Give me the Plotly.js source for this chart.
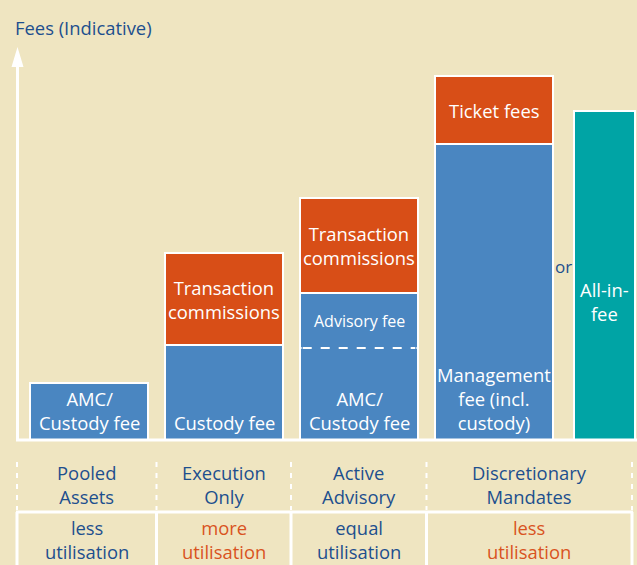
<!DOCTYPE html>
<html><head><meta charset="utf-8">
<script src="https://cdn.plot.ly/plotly-3.0.1.min.js"></script>
<style>html,body{margin:0;padding:0;background:#efe5c1;}</style>
</head><body>
<div id="chart" style="width:637px;height:565px;"></div>
<script>
// ---- data ----
const categories = ["Pooled<br>Assets", "Execution<br>Only", "Active<br>Advisory", "Discretionary<br>Mandates"];
const utilisation = ["less<br>utilisation", "more<br>utilisation", "equal<br>utilisation", "less<br>utilisation"];
const baseFee = [5.7, 9.5, 9.2, 29.6];          // AMC/custody, custody, AMC/custody, management
const advisoryFee = [0, 0, 5.5, 0];
const transactionFee = [0, 9.2, 9.5, 6.8];
const allInFee = 32.9;
const baseLabels = ["AMC/<br>Custody fee", "Custody fee", "AMC/<br>Custody fee", "Management<br>fee (incl.<br>custody)"];
const advisoryLabels = ["", "", "Advisory fee", ""];
const transactionLabels = ["", "Transaction<br>commissions", "Transaction<br>commissions", "Ticket fees"];
const allInLabel = "All-in-<br>fee";

// ---- styles ----
const BG = "#efe5c1", BLUE = "#4a86c1", ORANGE = "#d84e17", TEAL = "#00a4a5";
const TXT_BLUE = "#1d4f8e", TXT_ORANGE = "#d9531e";
const utilColors = [TXT_BLUE, TXT_ORANGE, TXT_BLUE, TXT_ORANGE];
const FONT = "Open Sans, Noto Sans, sans-serif";
const W = 637, H = 565;
const px = v => v / W, py = v => 1 - v / H;

const xs = categories.map((_, i) => i);
const barW = 0.874;
const xAllIn = 3.82, wAllIn = 0.45;
const line = {color: "white", width: 2};

const traces = [
  {type: "bar", x: xs, y: baseFee, width: barW, marker: {color: BLUE, line: line}, hoverinfo: "skip"},
  {type: "bar", x: xs, y: advisoryFee, width: barW, marker: {color: BLUE, line: line}, hoverinfo: "skip"},
  {type: "bar", x: xs, y: transactionFee, width: barW, marker: {color: ORANGE, line: line}, hoverinfo: "skip"},
  {type: "bar", x: [xAllIn], y: [allInFee], width: wAllIn, marker: {color: TEAL, line: line}, hoverinfo: "skip"}
];

const ann = [];
const wf = (s) => ({family: FONT, size: s, color: "white"});
const A = (o) => Object.assign({showarrow: false, xanchor: "center", yanchor: "middle"}, o);
xs.forEach(i => {
  ann.push(A({x: i, y: 0, xref: "x", yref: "y", yanchor: "bottom", yshift: 3, text: baseLabels[i], font: wf(18.4)}));
  if (advisoryLabels[i]) ann.push(A({x: i, y: baseFee[i] + advisoryFee[i] / 2, xref: "x", yref: "y", text: advisoryLabels[i], font: wf(16)}));
  if (transactionLabels[i]) ann.push(A({x: i, y: baseFee[i] + advisoryFee[i] + transactionFee[i] / 2, xref: "x", yref: "y", text: transactionLabels[i], font: wf(18.4)}));
});
ann.push(A({x: xAllIn, y: allInFee * 0.42, xref: "x", yref: "y", text: allInLabel, font: wf(18.4)}));
ann.push(A({x: (3 + barW / 2 + xAllIn - wAllIn / 2) / 2, y: 17.4, xref: "x", yref: "y", text: "or", font: {family: FONT, size: 17, color: TXT_BLUE}}));

const seps = [17, 156.5, 291, 426.5, 632];
categories.forEach((c, i) => {
  const cx = (seps[i] + seps[i + 1]) / 2;
  ann.push(A({x: px(cx), y: py(484), xref: "paper", yref: "paper", text: c, font: {family: FONT, size: 18.4, color: TXT_BLUE}}));
  ann.push(A({x: px(cx), y: py(539), xref: "paper", yref: "paper", text: utilisation[i], font: {family: FONT, size: 18.4, color: utilColors[i]}}));
});

const shapes = [];
// dashed divider between AMC and advisory
const x3 = 2;
shapes.push({type: "line", xref: "x", yref: "y", x0: x3 - barW / 2 + 0.012, x1: x3 + barW / 2 - 0.012, y0: baseFee[2], y1: baseFee[2], line: {color: BLUE, width: 3}});
shapes.push({type: "line", xref: "x", yref: "y", x0: x3 - barW / 2 + 0.02, x1: x3 + barW / 2 - 0.02, y0: baseFee[2], y1: baseFee[2], line: {color: "white", width: 2, dash: "dash"}});
// axis arrow + baseline
shapes.push({type: "line", xref: "paper", yref: "y", x0: px(17.5), x1: px(17.5), y0: 0, y1: 37.5, line: {color: "white", width: 3}});
shapes.push({type: "path", xref: "paper", yref: "paper", path: `M ${px(11.5)},${py(67)} L ${px(17.5)},${py(47)} L ${px(23.5)},${py(67)} Z`, fillcolor: "white", line: {width: 0}});
shapes.push({type: "line", xref: "paper", yref: "y", x0: px(16), x1: 1, y0: 0, y1: 0, line: {color: "white", width: 3}});
// table lines
seps.forEach(s => {
  shapes.push({type: "line", xref: "paper", yref: "paper", x0: px(s), x1: px(s), y0: py(462), y1: py(510), line: {color: "white", width: 2, dash: "5px,6px"}});
  shapes.push({type: "line", xref: "paper", yref: "paper", x0: px(s), x1: px(s), y0: py(512), y1: 0, line: {color: "white", width: 3}});
});
shapes.push({type: "line", xref: "paper", yref: "paper", x0: px(16), x1: px(633), y0: py(512), y1: py(512), line: {color: "white", width: 3}});

const layout = {
  width: W, height: H,
  margin: {l: 0, r: 0, t: 0, b: 0},
  paper_bgcolor: BG, plot_bgcolor: BG,
  barmode: "stack",
  showlegend: false,
  title: {text: "Fees (Indicative)", x: px(15), xanchor: "left", y: py(29), yanchor: "middle", xref: "paper", font: {family: FONT, size: 18.4, color: TXT_BLUE}},
  xaxis: {range: [-89 / 135, 548 / 135], visible: false, fixedrange: true},
  yaxis: {range: [-12.5, 44], visible: false, fixedrange: true},
  annotations: ann,
  shapes: shapes
};

Plotly.newPlot("chart", traces, layout, {staticPlot: true, displayModeBar: false});
</script>
</body></html>
